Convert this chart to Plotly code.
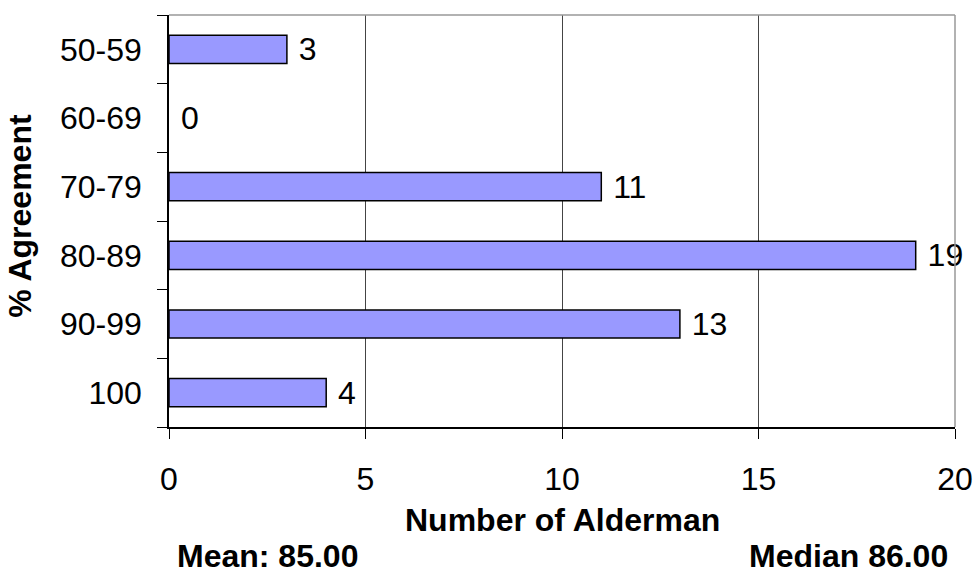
import plotly.graph_objects as go

# Distribution of aldermen by percentage agreement
categories = ["50-59", "60-69", "70-79", "80-89", "90-99", "100"]
counts = [3, 0, 11, 19, 13, 4]
x_ticks = [0, 5, 10, 15, 20]
x_title = "Number of Alderman"
y_title = "% Agreement"
mean_label = "Mean: 85.00"
median_label = "Median 86.00"

FONT = "Liberation Sans, Arial, sans-serif"
FS = 32

fig = go.Figure(
    go.Bar(
        y=categories,
        x=counts,
        orientation="h",
        width=0.41,
        marker=dict(
            color="#9999FF",
            # empty categories get no outline so nothing is drawn for them
            line=dict(color="black", width=[1.5 if c else 0 for c in counts]),
        ),
        text=[" " + str(c) for c in counts],
        textposition="outside",
        constraintext="none",
        textfont=dict(family=FONT, size=FS, color="black"),
        cliponaxis=False,
    )
)

fig.update_layout(
    width=973,
    height=576,
    margin=dict(l=169, r=18, t=15, b=149, autoexpand=False),
    paper_bgcolor="white",
    plot_bgcolor="white",
    showlegend=False,
    font=dict(family=FONT, size=FS, color="black"),
    xaxis=dict(
        range=[0, 20],
        tickvals=x_ticks,
        ticks="outside",
        ticklen=10,
        tickcolor="black",
        showline=True,
        linecolor="black",
        linewidth=1.5,
        showgrid=True,
        gridcolor="#444444",
        gridwidth=1,
        zeroline=False,
        automargin=False,
        tickfont=dict(size=FS),
        ticklabelstandoff=13,
    ),
    yaxis=dict(
        categoryorder="array",
        categoryarray=categories[::-1],
        tickson="boundaries",
        ticks="outside",
        ticklen=10,
        tickcolor="black",
        showline=True,
        linecolor="black",
        linewidth=1.5,
        showgrid=False,
        automargin=False,
        tickfont=dict(size=FS),
        ticklabelstandoff=19,
    ),
    shapes=[
        dict(type="line", xref="paper", yref="paper", x0=0, x1=1, y0=1, y1=1,
             line=dict(color="#999999", width=1.5)),
        dict(type="line", xref="paper", yref="paper", x0=1, x1=1, y0=0, y1=1,
             line=dict(color="#999999", width=1.5)),
    ],
    annotations=[
        dict(text="<b>" + x_title + "</b>", xref="paper", yref="paper",
             x=0.5, y=-0.226, xanchor="center", yanchor="middle",
             showarrow=False, font=dict(size=FS)),
        dict(text="<b>" + y_title + "</b>", xref="paper", yref="paper",
             x=-0.19, y=0.512, xanchor="center", yanchor="middle",
             textangle=-90, showarrow=False, font=dict(size=FS)),
        dict(text="<b>" + mean_label + "</b>", xref="paper", yref="paper",
             x=0.0076, y=-0.314, xanchor="left", yanchor="middle",
             showarrow=False, font=dict(size=FS)),
        dict(text="<b>" + median_label + "</b>", xref="paper", yref="paper",
             x=0.9936, y=-0.314, xanchor="right", yanchor="middle",
             showarrow=False, font=dict(size=FS)),
    ],
)

fig.write_html("out.html")
